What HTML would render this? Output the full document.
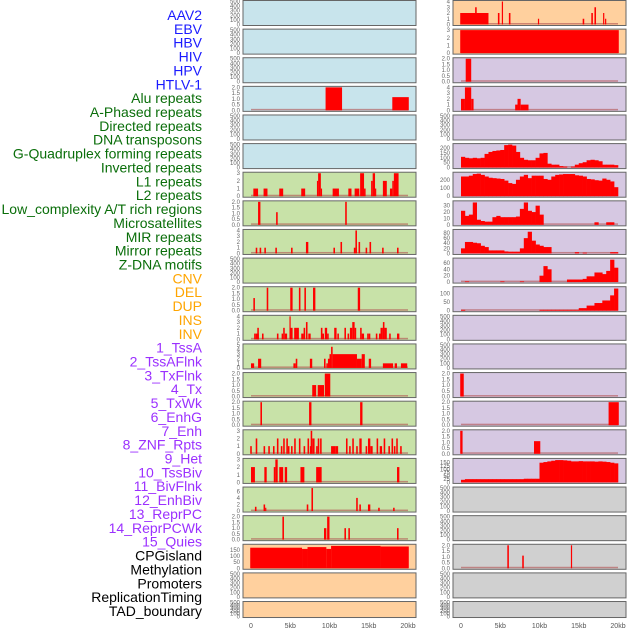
<!DOCTYPE html>
<html><head><meta charset="utf-8"><style>
html,body{margin:0;padding:0;background:#fff;}
svg{display:block;font-family:"Liberation Sans",sans-serif;}
</style></head><body>
<svg id="c" width="630" height="630"></svg>
<script>
const labels = ["AAV2","EBV","HBV","HIV","HPV","HTLV-1","Alu repeats","A-Phased repeats","Directed repeats","DNA transposons","G-Quadruplex forming repeats","Inverted repeats","L1 repeats","L2 repeats","Low_complexity A/T rich regions","Microsatellites","MIR repeats","Mirror repeats","Z-DNA motifs","CNV","DEL","DUP","INS","INV","1_TssA","2_TssAFlnk","3_TxFlnk","4_Tx","5_TxWk","6_EnhG","7_Enh","8_ZNF_Rpts","9_Het","10_TssBiv","11_BivFlnk","12_EnhBiv","13_ReprPC","14_ReprPCWk","15_Quies","CPGisland","Methylation","Promoters","ReplicationTiming","TAD_boundary"];
const labelGroups = [6,13,5,15,5];
const groupColors = ["#1a1aff","#0a6e0a","#ffa500","#9b30ff","#000000"];
const xTicks = [0,5,10,15,20];
const xTickLabels = ["0","5kb","10kb","15kb","20kb"];
const leftBg = ["blue","blue","blue","blue","blue","blue","green","green","green","green","green","green","green","green","green","green","green","green","green","peach","peach","peach"];
const rightBg = ["peach","peach","purple","purple","purple","purple","purple","purple","purple","purple","purple","purple","purple","purple","purple","purple","purple","gray","gray","gray","gray","gray"];
const leftMax = [500,500,500,2,500,500,3,2,4,500,2,4,5,2,2,3,3,7,2,190,500,500];
const rightMax = [4,3,2,4,500,235,280,36,90,72,135,500,500,2,2,2,175,500,500,2,500,500];
// bars: [startKb, endKb, value]
const leftBars = [
 [],[],[],
 [[9.5,11.6,2],[18,20.1,1.15]],
 [],[],
 [[0.3,0.9,1],[1.6,2.1,1],[3.6,4.1,1],[6.4,6.9,1],[8.4,8.55,2],[8.55,8.9,3],[8.9,9.0,1],[10.4,11.2,1],[12.4,12.8,1],[13.2,13.8,1],[13.9,14.4,3],[14.4,14.6,1],[15.3,15.5,2],[15.5,15.8,3],[15.8,15.9,1],[16.8,17.3,2],[17.7,18.0,1],[18.0,18.2,2],[18.2,18.8,3]],
 [[0.9,1.2,2],[3.2,3.4,1.1],[12.0,12.2,2]],
 [[0.6,0.8,1],[1.1,1.3,1],[1.7,1.9,1],[3.1,3.3,1],[5.1,5.3,1],[7.0,7.3,2],[10.5,10.7,1],[11.4,11.6,2],[13.1,13.3,1],[13.3,13.5,4],[13.7,13.9,2],[14.6,14.8,1],[15.1,15.3,2],[16.7,16.9,1],[18.6,18.8,1]],
 [],
 [[0.3,0.5,1.1],[2.0,2.2,2],[5.0,5.3,2],[6.1,6.3,2],[6.8,7.0,2],[7.9,8.2,2],[13.6,13.9,2]],
 [[0.4,0.6,1],[0.6,1.0,1],[0.8,1.0,2],[1.4,1.6,1],[3.3,3.5,1],[3.9,4.1,1],[4.1,4.3,2],[4.3,4.6,1],[4.9,5.0,4],[5.0,5.3,2],[5.5,5.8,2],[5.8,6.1,2],[6.4,6.7,1],[6.7,6.9,2],[7.0,7.2,3],[7.3,7.6,1],[8.9,9.1,2],[9.1,9.3,1],[9.4,9.7,2],[9.7,9.9,1],[10.6,10.9,2],[11.0,11.2,1],[11.9,12.1,2],[12.3,12.5,1],[12.6,12.9,2],[12.9,13.2,3],[13.2,13.4,2],[13.9,14.1,2],[14.1,14.4,1],[14.8,15.0,1],[15.0,15.2,1],[15.9,16.1,1],[16.3,16.5,1],[16.5,16.8,2],[16.8,17.0,3],[17.0,17.3,2],[17.6,17.8,1],[18.6,18.9,1]],
 [[0.0,0.4,1],[0.9,1.3,2],[5.4,5.7,1],[5.7,5.9,2],[7.5,7.8,2],[9.3,9.5,2],[9.6,9.8,1],[9.8,10.0,2],[10.0,10.2,3],[10.2,10.4,4.6],[10.4,13.5,3],[13.5,14.1,2],[14.1,14.5,3],[15.0,15.3,2],[16.8,18.1,1],[18.3,18.6,1],[19.1,19.9,1]],
 [[7.8,8.3,1],[8.5,9.3,1],[9.4,10.1,2]],
 [[1.2,1.4,2],[7.4,7.7,2],[13.9,14.2,2]],
 [[-0.1,0.1,1],[0.6,0.8,2],[1.6,1.8,1],[2.2,2.4,1],[2.8,3.0,1],[3.3,3.5,2],[3.8,4.0,1],[4.1,4.3,2],[4.5,4.7,2],[4.7,4.9,1],[5.1,5.3,1],[5.5,5.7,2],[6.1,6.3,2],[6.7,6.9,1],[7.2,7.4,2],[7.5,7.6,1],[7.6,7.8,3],[7.8,8.1,2],[8.3,8.5,1],[8.5,8.7,2],[8.8,9.0,2],[10.2,10.8,1],[10.8,11.1,1],[12.1,12.3,2],[12.5,12.7,1],[12.9,13.1,2],[13.4,13.6,1],[13.8,14.1,2],[14.6,14.8,1],[14.9,15.2,2],[15.2,15.5,1],[16.0,16.2,2],[16.4,16.7,1],[16.9,17.1,2],[17.5,17.7,1],[17.9,18.1,2],[18.2,18.4,1],[18.5,18.7,2],[19.0,19.2,1]],
 [[0.0,0.5,2],[1.7,2.0,2],[2.9,3.1,2],[3.1,3.4,3],[3.6,4.1,2],[4.3,4.6,2],[6.3,6.8,2],[8.3,9.0,2],[18.6,18.9,2]],
 [[0.5,0.7,1.3],[1.6,1.8,2],[1.8,1.9,1],[7.1,7.3,2],[7.7,7.9,7],[13.4,13.6,4],[13.8,14.0,2],[14.9,15.2,2],[16.2,16.4,1],[18.1,18.3,1]],
 [[4.0,4.2,2],[9.3,9.6,1],[9.7,10.0,2],[11.9,12.1,1],[12.4,12.6,1],[18.6,18.8,1]],
 [[-0.1,6.5,170],[6.5,7.2,160],[7.2,9.6,175],[9.6,10.2,160],[10.2,16.5,185],[16.5,20.1,180]],
 [],[]
];
const rightBars = [
 [[-0.1,3.5,2],[1.8,2.0,3],[4.7,4.9,2],[5.2,5.35,4],[6.1,6.3,2],[9.8,9.95,1],[15.5,15.7,1],[16.6,16.8,2],[17.0,17.2,3],[18.1,18.25,2],[18.35,18.5,1]],
 [[-0.1,20.1,3]],
 [[0.6,1.3,2]],
 [[0.0,0.5,2],[0.5,1.3,4],[1.3,1.6,2],[6.9,7.2,1],[7.2,7.6,2],[7.6,8.6,1]],
 [],[],[],[],[],[],[],[],[],
 [[-0.1,0.35,2]],
 [[18.8,20.1,2]],
 [[-0.1,0.2,2],[9.3,10.1,1.1]],
 [],[],[],
 [[5.9,6.1,2],[7.8,8.0,1.1],[14.0,14.15,2]],
 [],[]
];
// profiles: 40 bins of 0.5kb
const rightProfiles = {
 5:[110,100,95,100,95,100,140,160,170,175,180,230,235,225,160,100,80,75,75,100,145,150,40,30,30,15,10,0,10,30,45,55,75,80,75,65,30,30,30,25],
 6:[240,240,250,270,275,260,240,225,220,215,210,190,160,150,200,240,260,220,250,250,250,210,200,240,260,265,270,270,270,255,250,240,210,205,195,190,215,200,180,110],
 7:[22,14,16,35,8,6,5,5,12,14,12,12,12,12,13,25,35,22,20,30,16,0,0,0,0,0,0,0,0,0,0,0,0,0,4,0,0,4,4,0],
 8:[20,45,45,42,40,30,25,12,12,12,12,8,7,7,7,20,60,85,50,35,30,25,25,0,0,0,0,0,0,5,0,3,0,0,0,0,0,0,5,5],
 9:[0,2,0,0,0,0,0,0,0,0,2,0,0,0,0,2,0,0,0,0,20,50,40,0,0,0,0,8,8,8,8,10,18,18,30,30,25,35,70,45],
 10:[5,0,0,0,0,0,0,0,0,0,0,0,0,0,0,0,0,0,0,0,5,5,5,5,5,5,5,5,5,5,15,15,30,30,45,45,60,60,90,130],
 16:[20,25,25,25,25,25,25,25,25,25,25,25,25,25,25,25,28,28,28,28,150,155,160,165,170,170,168,165,160,160,162,160,160,160,158,160,158,155,150,145]
};
const bgColor = {blue:"#c8e4ec",green:"#c8e2a8",peach:"#ffd09e",purple:"#d6c8e2",gray:"#d0d0d0"};

const svg = document.getElementById('c');
const NS = "http://www.w3.org/2000/svg";
function mk(tag, attrs, parent){const e=document.createElementNS(NS,tag);for(const k in attrs)e.setAttribute(k,attrs[k]);(parent||svg).appendChild(e);return e;}

// labels
let li=0;
labelGroups.forEach((n,g)=>{for(let i=0;i<n;i++){const t=mk('text',{x:202,y:20+li*13.86,'text-anchor':'end','font-size':'14',fill:groupColors[g]});t.textContent=labels[li];

li++;}});

const rowTop=i=>0.5+i*28.62;
function niceTicks(m){
 if(m>=400) return [0,100,200,300,400,500];
 if(m>=150&&m<=200) return [0,50,100,150];
 if(m===175) return [0,25,50,75,100,125,150];
 if(m===280) return [0,100,200];
 if(m===235) return [0,50,100,150,200];
 if(m===135) return [0,50,100];
 if(m===90) return [0,20,40,60,80];
 if(m===72) return [0,20,40,60];
 if(m===36) return [0,10,20,30];
 if(m===2) return [0,0.5,1,1.5,2];
 if(m===7) return [0,2,4,6];
 const a=[];for(let v=0;v<=m;v++)a.push(v);return a;
}
function drawPanel(col,i){
 const x0=col===0?243:453, w=173;
 const top=rowTop(i), h=(i===21)?16:25;
 const max=col===0?leftMax[i]:rightMax[i];
 const g=mk('g',{});
 
 
 mk('rect',{x:x0,y:top,width:w,height:h,fill:bgColor[(col===0?leftBg:rightBg)[i]],stroke:'#666','stroke-width':1},g);
 const xs=kb=>x0+8+Math.max(-0.3,Math.min(20.3,kb))*157/20;
 const ys=v=>top+h-1-(v/max)*(h-2);
 let tk=niceTicks(max);
 if(max===175) tk=[0,25,50,75,100,125,150];
 tk.forEach(v=>{const t=mk('text',{x:x0-3,y:ys(v)+2,'text-anchor':'end','font-size':'6',fill:'#666'},g);t.textContent=(max===2?v.toFixed(1):v);});
 const bars=col===0?leftBars[i]:rightBars[i];
 const prof=col===1?rightProfiles[i]:null;
 if(bars.length||prof){
  mk('rect',{x:xs(0),y:top+h-2.5,width:xs(20)-xs(0),height:1.5,fill:'#b05050',opacity:0.6},g);
 }
 bars.forEach(b=>{const r=mk('rect',{x:xs(b[0]),y:ys(b[2]),width:Math.max(1.2,xs(b[1])-xs(b[0])),height:top+h-1-ys(b[2]),fill:'#ff0000'},g);
  
  });
 if(prof){prof.forEach((v,k)=>{if(v<=0)return;const r=mk('rect',{x:xs(k*0.5),y:ys(v),width:xs(k*0.5+0.5)-xs(k*0.5)+0.3,height:top+h-1-ys(v),fill:'#ff0000'},g);
  
  });}
}
for(let i=0;i<22;i++){drawPanel(0,i);drawPanel(1,i);}
[243,453].forEach((x0,c)=>{xTicks.forEach((k,j)=>{const t=mk('text',{x:x0+8+k*157/20,y:628,'text-anchor':'middle','font-size':'7',fill:'#555'});t.textContent=xTickLabels[j];
 
 });});
</script>
</body></html>
